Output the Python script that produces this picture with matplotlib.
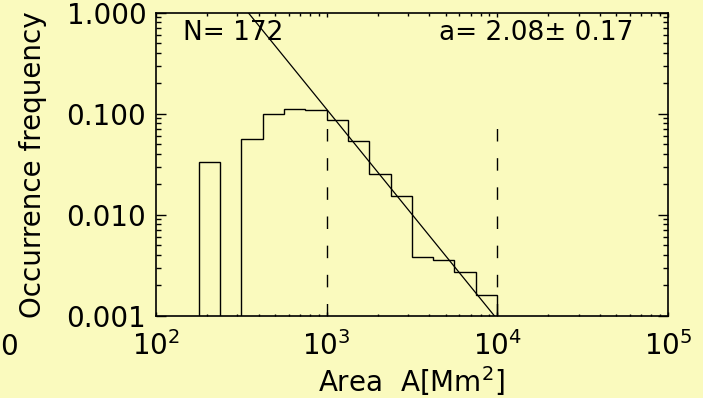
import numpy as np
import matplotlib
matplotlib.use('Agg')
import matplotlib.pyplot as plt
from matplotlib.ticker import FixedLocator, LogLocator, NullFormatter, FuncFormatter

plt.rcParams['font.family'] = ['DejaVu Sans']
plt.rcParams['mathtext.fontset'] = 'dejavusans'

# histogram bin edges (area, Mm^2) and occurrence frequency per bin
bin_edges = [178, 237, 316, 422, 562, 750, 1000, 1334, 1778, 2371,
             3162, 4217, 5623, 7499, 10000, 100000]
frequency = [0.0335, 0.0, 0.0566, 0.099, 0.112, 0.108, 0.087, 0.054,
             0.0255, 0.0153, 0.0038, 0.00356, 0.00271, 0.00161, 0.0]

# power-law fit: log f = fit_slope * log A + fit_icpt
fit_slope = -2.08
fit_icpt = 5.285
fit_range = [300, 10000]
fit_limits = [1e3, 1e4]
dash_top = 0.088

n_events = 172
alpha_txt = 'a= 2.08\u00b1 0.17'

bg = '#fafabe'
fs = 20
fig = plt.figure(figsize=(7.03, 3.98), dpi=100, facecolor=bg)
ax = fig.add_axes([0.2219, 0.2068, 0.7279, 0.7613], facecolor=bg)

ax.set_xscale('log')
ax.set_yscale('log')
ax.set_xlim(1e2, 1e5)
ax.set_ylim(1e-3, 1.0)

vals = np.maximum(np.array(frequency), 1e-6)
ax.stairs(vals, bin_edges, baseline=1e-6, color='black', lw=1.0)

xf = np.array(fit_range, dtype=float)
ax.plot(xf, 10 ** (fit_slope * np.log10(xf) + fit_icpt), color='black', lw=0.9)

ax.vlines(fit_limits, 1e-3, dash_top, colors='black', lw=1.0,
          linestyles=[(0, (9, 12))])

for s in ax.spines.values():
    s.set_linewidth(1.2)

ax.yaxis.set_major_locator(FixedLocator([0.001, 0.01, 0.1, 1.0]))
ax.yaxis.set_major_formatter(FuncFormatter(lambda v, p: '%.3f' % v))
ax.yaxis.set_minor_locator(LogLocator(base=10, subs=np.arange(2, 10)))
ax.yaxis.set_minor_formatter(NullFormatter())
ax.xaxis.set_major_locator(FixedLocator([1e2, 1e3, 1e4, 1e5]))
ax.xaxis.set_major_formatter(FuncFormatter(lambda v, p: r'$10^{%d}$' % round(np.log10(v))))
ax.xaxis.set_minor_locator(LogLocator(base=10, subs=np.arange(2, 10)))
ax.xaxis.set_minor_formatter(NullFormatter())

ax.tick_params(axis='both', which='both', direction='in', top=True, right=True,
               labelsize=fs, width=1.0)
ax.tick_params(axis='y', which='major', length=7.2, pad=7)
ax.tick_params(axis='y', which='minor', length=3.6)
ax.tick_params(axis='x', which='major', length=3.0, pad=11)
ax.tick_params(axis='x', which='minor', length=1.8)

ax.set_xlabel(r'Area  A[Mm$^2$]', fontsize=fs, labelpad=2)
ax.set_ylabel('Occurrence frequency', fontsize=fs, labelpad=14)

ax.text(0.052, 0.975, 'N= %d' % n_events, transform=ax.transAxes,
        fontsize=19, ha='left', va='top')
ax.text(0.933, 0.975, alpha_txt, transform=ax.transAxes,
        fontsize=19, ha='right', va='top')

fig.text(0.0, 1 - 355 / 398, '0', fontsize=fs, ha='left', va='baseline')

plt.savefig('out.png', dpi=100, facecolor=bg)
